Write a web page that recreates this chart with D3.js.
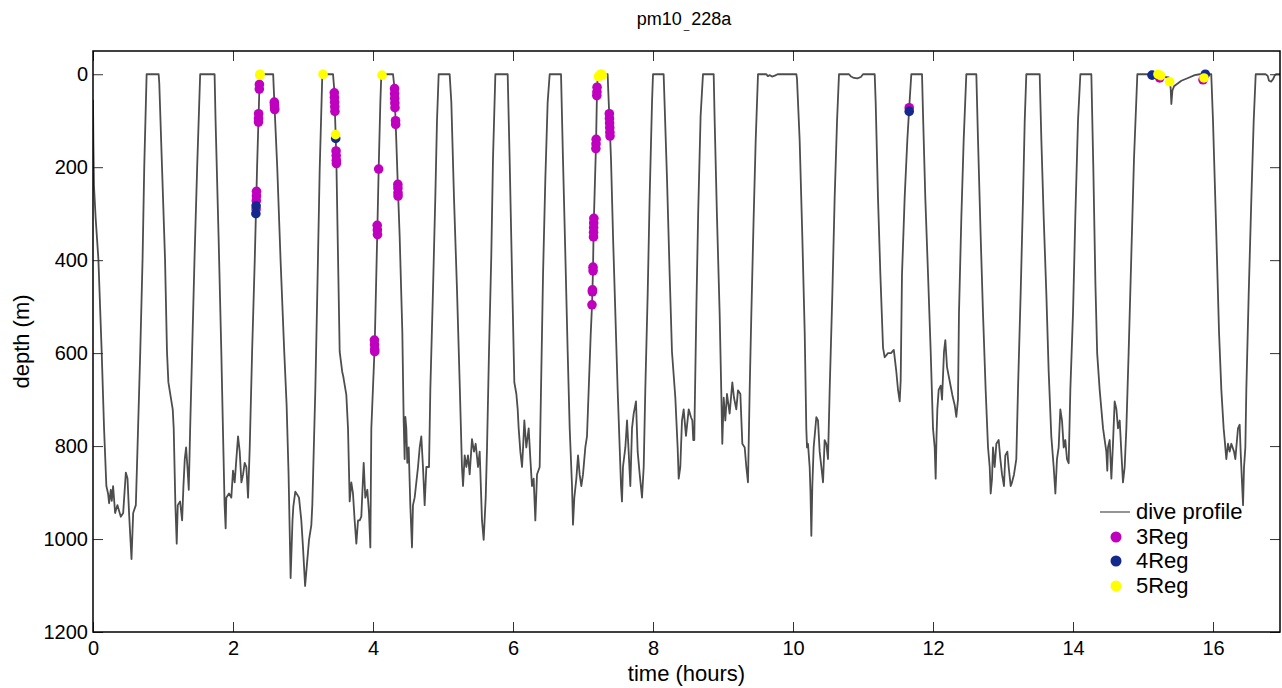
<!DOCTYPE html>
<html>
<head>
<meta charset="utf-8">
<script src="https://cdn.jsdelivr.net/npm/d3@7"></script>
<style>
  html, body { margin: 0; padding: 0; background: #fff; }
  svg { display: block; font-family: "Liberation Sans", Arial, sans-serif; }
</style>
</head>
<body>
<script>
// ---------------- data ----------------
const chartTitle = "pm10_228a";
const xLabel = "time (hours)";
const yLabel = "depth (m)";
const xTicks = [0, 2, 4, 6, 8, 10, 12, 14, 16];
const yTicks = [0, 200, 400, 600, 800, 1000, 1200];
const seriesNames = ["dive profile", "3Reg", "4Reg", "5Reg"];

// dive profile (time in hours, depth in m)
const profileTime = [
  0, 0.006, 0.014, 0.038, 0.077, 0.124, 0.158, 0.191, 0.215, 0.230, 0.254, 0.268, 0.287, 0.316, 0.349, 0.397, 0.431, 0.469, 0.493, 0.517, 0.550, 0.574, 0.612, 0.636, 0.675, 0.708, 0.732, 0.766, 0.938,
  0.947, 0.986, 1.029, 1.057, 1.077, 1.139, 1.153, 1.177, 1.196, 1.211, 1.244, 1.273, 1.292, 1.311, 1.330, 1.349, 1.368, 1.388, 1.416, 1.450, 1.488, 1.531, 1.737,
  1.751, 1.794, 1.833, 1.856, 1.880, 1.895, 1.904, 1.943, 1.976, 2.000, 2.024, 2.048, 2.072, 2.096, 2.120, 2.144, 2.167, 2.191, 2.215, 2.239, 2.273, 2.311, 2.344, 2.383, 2.574,
  2.582, 2.595, 2.632, 2.679, 2.732, 2.766, 2.794, 2.823, 2.850, 2.862, 2.890, 2.920, 2.943, 2.976, 3.000, 3.030, 3.057, 3.086, 3.119, 3.133, 3.143, 3.176, 3.205, 3.238, 3.276, 3.429,
  3.445, 3.452, 3.467, 3.476, 3.500, 3.524, 3.560, 3.575, 3.619, 3.643, 3.667, 3.690, 3.714, 3.738, 3.762, 3.786, 3.810, 3.833, 3.867, 3.890, 3.919, 3.943, 3.962, 3.976, 4.024, 4.062, 4.081, 4.105, 4.119, 4.286,
  4.300, 4.310, 4.324, 4.357, 4.381, 4.419, 4.438, 4.452, 4.462, 4.476, 4.490, 4.510, 4.533, 4.557, 4.571, 4.595, 4.643, 4.667, 4.690, 4.714, 4.738, 4.762, 4.800, 4.819, 4.857, 4.890, 4.914, 4.938, 5.095,
  5.119, 5.157, 5.200, 5.238, 5.271, 5.286, 5.310, 5.333, 5.357, 5.381, 5.414, 5.443, 5.467, 5.500, 5.524, 5.557, 5.581, 5.610, 5.629, 5.657, 5.690, 5.714, 5.748, 5.924,
  5.952, 5.986, 6.019, 6.048, 6.067, 6.081, 6.105, 6.129, 6.145, 6.162, 6.190, 6.224, 6.248, 6.271, 6.295, 6.319, 6.343, 6.381, 6.400, 6.429, 6.462, 6.495, 6.524, 6.686,
  6.714, 6.748, 6.781, 6.810, 6.843, 6.857, 6.876, 6.905, 6.929, 6.952, 6.976, 7.000, 7.033, 7.057, 7.081, 7.110, 7.129, 7.143, 7.152, 7.186, 7.200, 7.210, 7.352,
  7.362, 7.381, 7.400, 7.429, 7.462, 7.495, 7.524, 7.543, 7.557, 7.571, 7.605, 7.629, 7.652, 7.676, 7.700, 7.724, 7.757, 7.781, 7.810, 7.843, 7.867, 7.890, 7.924, 7.952, 7.986, 8.000, 8.152,
  8.200, 8.238, 8.271, 8.319, 8.352, 8.367, 8.390, 8.400, 8.414, 8.438, 8.471, 8.510, 8.543, 8.562, 8.575, 8.590, 8.595, 8.620, 8.645, 8.680, 8.714, 8.867,
  8.881, 8.914, 8.952, 8.976, 8.990, 9.010, 9.033, 9.057, 9.095, 9.133, 9.157, 9.190, 9.214, 9.248, 9.276, 9.310, 9.333, 9.357, 9.381, 9.405, 9.438, 9.467, 9.500,
  9.620, 9.640, 9.670, 9.700, 9.740, 9.780, 10.048,
  10.057, 10.095, 10.133, 10.167, 10.190, 10.200, 10.214, 10.238, 10.250, 10.262, 10.276, 10.295, 10.333, 10.357, 10.381, 10.405, 10.429, 10.452, 10.476, 10.500, 10.524, 10.562, 10.595, 10.629, 10.657,
  10.800, 10.830, 10.870, 10.920, 10.970, 11.000, 11.167,
  11.181, 11.214, 11.248, 11.286, 11.310, 11.357, 11.400, 11.440, 11.476, 11.500, 11.524, 11.538, 11.557, 11.595, 11.633, 11.667, 11.690, 11.843,
  11.857, 11.890, 11.929, 11.967, 12.000, 12.024, 12.038, 12.050, 12.062, 12.081, 12.110, 12.129, 12.157, 12.176, 12.200, 12.238, 12.276, 12.310, 12.333, 12.357, 12.371, 12.405, 12.438, 12.476, 12.619,
  12.643, 12.681, 12.714, 12.752, 12.786, 12.810, 12.824, 12.843, 12.857, 12.881, 12.905, 12.938, 12.962, 12.986, 13.014, 13.033, 13.062, 13.081, 13.110, 13.129, 13.157, 13.190, 13.214, 13.252, 13.286, 13.310, 13.333, 13.524,
  13.548, 13.581, 13.619, 13.652, 13.690, 13.724, 13.748, 13.771, 13.795, 13.819, 13.843, 13.867, 13.890, 13.914, 13.938, 13.962, 14.000, 14.033, 14.071, 14.105, 14.262,
  14.290, 14.320, 14.345, 14.381, 14.429, 14.476, 14.490, 14.500, 14.524, 14.548, 14.571, 14.595, 14.619, 14.643, 14.667, 14.690, 14.714, 14.738, 14.762, 14.795, 14.833, 14.871, 14.919,
  15.230, 15.262, 15.370, 15.395, 15.405, 15.420, 15.443, 15.476, 15.548, 15.643, 15.738, 15.810, 15.975,
  16.000, 16.048, 16.086, 16.119, 16.152, 16.167, 16.190, 16.214, 16.238, 16.262, 16.300, 16.319, 16.333, 16.357, 16.381, 16.395, 16.414, 16.429, 16.443, 16.462, 16.476, 16.510, 16.548, 16.581, 16.610,
  16.750, 16.780, 16.800, 16.830, 16.860, 16.880, 16.900, 16.957
];
const profileDepth = [
  55, 150, 240, 310, 398, 597, 762, 886, 902, 923, 894, 918, 886, 944, 927, 952, 944, 857, 870, 950, 1043, 944, 927, 803, 597, 398, 200, 0, 0,
  20, 200, 398, 597, 663, 721, 762, 927, 1010, 927, 919, 960, 886, 828, 803, 845, 894, 762, 597, 398, 200, 0, 0,
  100, 349, 597, 762, 927, 977, 911, 902, 911, 853, 878, 828, 779, 812, 878, 861, 836, 845, 911, 803, 597, 398, 200, 0, 0,
  30, 75, 200, 398, 597, 712, 861, 1084, 960, 930, 898, 905, 911, 960, 1018, 1101, 1053, 1002, 970, 927, 870, 679, 464, 208, 0, 0,
  30, 60, 134, 180, 390, 597, 640, 650, 690, 762, 919, 878, 902, 960, 1010, 960, 960, 952, 836, 911, 894, 944, 1018, 762, 584, 335, 204, 60, 0, 0,
  20, 52, 105, 250, 349, 555, 745, 828, 737, 762, 836, 803, 927, 1018, 927, 911, 845, 803, 779, 845, 927, 845, 845, 679, 464, 266, 101, 0, 0,
  60, 266, 464, 663, 845, 886, 820, 845, 820, 861, 785, 812, 795, 845, 812, 960, 1002, 911, 803, 597, 390, 183, 0, 0,
  183, 431, 663, 688, 721, 762, 812, 845, 800, 745, 803, 762, 828, 886, 870, 960, 861, 845, 679, 431, 225, 60, 0, 0,
  183, 390, 597, 762, 886, 969, 911, 870, 820, 861, 886, 861, 803, 779, 680, 560, 496, 419, 330, 150, 36, 0, 0,
  40, 110, 183, 349, 514, 679, 803, 886, 919, 845, 803, 745, 812, 886, 762, 730, 704, 812, 861, 911, 845, 679, 472, 266, 60, 0, 0,
  225, 431, 597, 696, 803, 870, 845, 803, 745, 721, 778, 721, 738, 745, 787, 787, 730, 500, 300, 90, 0, 0,
  101, 307, 514, 688, 795, 696, 745, 688, 730, 663, 696, 721, 680, 688, 795, 803, 845, 878, 679, 514, 307, 142, 0,
  0, 4, 2, 5, 3, 0, 0,
  10, 142, 349, 555, 762, 803, 795, 845, 900, 993, 886, 803, 738, 745, 812, 845, 878, 787, 795, 828, 679, 472, 266, 101, 0,
  0, 5, 8, 9, 6, 0, 0,
  60, 266, 431, 588, 609, 600, 600, 593, 640, 679, 704, 660, 431, 266, 142, 55, 0, 0,
  84, 266, 431, 597, 762, 803, 870, 780, 721, 679, 670, 700, 597, 572, 630, 660, 690, 712, 737, 700, 514, 307, 142, 0, 0,
  142, 349, 514, 679, 803, 845, 902, 870, 803, 845, 795, 787, 828, 861, 886, 820, 812, 845, 886, 878, 861, 828, 679, 472, 266, 101, 0, 0,
  142, 307, 472, 638, 779, 845, 902, 828, 803, 721, 745, 803, 787, 828, 837, 679, 514, 307, 101, 0, 0,
  200, 450, 600, 679, 762, 812, 853, 803, 787, 870, 795, 704, 720, 762, 745, 812, 878, 845, 762, 597, 390, 183, 0,
  0, 5, 7, 30, 64, 35, 26, 22, 14, 8, 2, 0, 0,
  101, 349, 555, 679, 762, 787, 828, 795, 812, 795, 812, 828, 803, 762, 754, 812, 878, 927, 845, 803, 679, 472, 266, 101, 0,
  0, 3, 14, 16, 10, 3, 0, 0
];

// click detections by number of regressions
const reg3Time = [2.377, 2.376, 2.366, 2.365, 2.364, 2.336, 2.335, 2.333, 2.330,
  2.590, 2.592, 2.594, 2.596,
  3.447, 3.449, 3.452, 3.454, 3.456, 3.472, 3.474, 3.476, 3.477,
  4.020, 4.022, 4.024, 4.025, 4.060, 4.062, 4.064, 4.081,
  4.308, 4.309, 4.310, 4.312, 4.314, 4.322, 4.324, 4.355, 4.356, 4.357, 4.358,
  7.128, 7.135, 7.134, 7.143, 7.144, 7.150, 7.151, 7.152, 7.153, 7.155, 7.184, 7.186, 7.188, 7.197, 7.199, 7.201,
  7.376, 7.378, 7.380, 7.382, 7.384, 7.386,
  11.660, 15.238, 15.857];
const reg3Depth = [22, 32, 85, 95, 103, 252, 262, 272, 290,
  60, 66, 72, 76,
  40, 50, 60, 70, 80, 165, 175, 185, 192,
  572, 582, 592, 597, 325, 335, 345, 204,
  31, 42, 52, 62, 72, 100, 108, 237, 245, 255, 262,
  496, 464, 468, 415, 423, 350, 340, 330, 320, 310, 160, 150, 140, 46, 38, 28,
  85, 95, 105, 115, 125, 133,
  72, 8, 12];
const reg4Time = [2.330, 2.327, 3.467, 11.660, 15.129, 15.890];
const reg4Depth = [283, 300, 138, 80, 2, 0];
const reg5Time = [2.383, 2.386, 3.286, 3.466, 4.129, 7.220, 7.235, 7.250, 7.265, 7.275, 15.214, 15.252, 15.381, 15.871];
const reg5Depth = [2, 0, 0, 130, 2, 5, 3, 0, 0, 2, 0, 3, 16, 8];

// ---------------- drawing ----------------
const W = 1282, H = 688;
const plot = { left: 93, top: 51, right: 1280, bottom: 632 };

const x = d3.scaleLinear().domain([0, 16.957]).range([plot.left, plot.right]);
const y = d3.scaleLinear().domain([-50, 1200]).range([plot.top, plot.bottom]);

const svg = d3.select("body").append("svg").attr("width", W).attr("height", H);
svg.append("rect").attr("width", W).attr("height", H).attr("fill", "#fff");

svg.append("clipPath").attr("id", "clip").append("rect")
  .attr("x", plot.left).attr("y", plot.top)
  .attr("width", plot.right - plot.left).attr("height", plot.bottom - plot.top);

const gData = svg.append("g").attr("clip-path", "url(#clip)");

const profile = profileTime.map((t, i) => ({ t, d: profileDepth[i] }));
const line = d3.line().x(p => x(p.t)).y(p => y(p.d));
gData.append("path").datum(profile)
  .attr("d", line).attr("fill", "none")
  .attr("stroke", "#4d4d4d").attr("stroke-width", 1.8).attr("stroke-linejoin", "round");

const colors = { "3Reg": "#bf00bf", "4Reg": "#13298c", "5Reg": "#ffff00" };
const dotSets = [
  ["3Reg", reg3Time, reg3Depth],
  ["4Reg", reg4Time, reg4Depth],
  ["5Reg", reg5Time, reg5Depth]
];
dotSets.forEach(([name, ts, ds]) => {
  gData.append("g").selectAll("circle")
    .data(ts.map((t, i) => ({ t, d: ds[i] })))
    .join("circle")
    .attr("cx", p => x(p.t)).attr("cy", p => y(p.d)).attr("r", 4.8)
    .attr("fill", colors[name]);
});

// axes (MATLAB style box with inward ticks on all sides)
const tickLen = 10;
const axBottom = d3.axisBottom(x).tickValues(xTicks).tickSize(-tickLen).tickPadding(9).tickFormat(d3.format("d"));
const axTop = d3.axisTop(x).tickValues(xTicks).tickSize(-tickLen).tickFormat("");
const axLeft = d3.axisLeft(y).tickValues(yTicks).tickSize(-tickLen).tickPadding(5).tickFormat(d3.format("d"));
const axRight = d3.axisRight(y).tickValues(yTicks).tickSize(-tickLen).tickFormat("");

function styleAxis(g) {
  g.select(".domain").remove();
  g.selectAll(".tick line").attr("stroke", "#333").attr("stroke-width", 1);
  g.selectAll(".tick text").attr("fill", "#000").style("font-size", "20px")
    .style("font-family", "'Liberation Sans', Arial, sans-serif");
}
svg.append("g").attr("transform", `translate(0,${plot.bottom})`).call(axBottom).call(styleAxis);
svg.append("g").attr("transform", `translate(0,${plot.top})`).call(axTop).call(styleAxis);
svg.append("g").attr("transform", `translate(${plot.left},0)`).call(axLeft).call(styleAxis);
svg.append("g").attr("transform", `translate(${plot.right},0)`).call(axRight).call(styleAxis);

svg.append("rect")
  .attr("x", plot.left).attr("y", plot.top)
  .attr("width", plot.right - plot.left).attr("height", plot.bottom - plot.top)
  .attr("fill", "none").attr("stroke", "#000").attr("stroke-width", 1.5);

// titles
const title = svg.append("text")
  .attr("x", 684).attr("y", 25)
  .attr("text-anchor", "middle").style("font-size", "18px").attr("fill", "#000");
title.append("tspan").text(chartTitle.split("_")[0]);
title.append("tspan").attr("dx", 2).attr("dy", 4).style("font-size", "10px").text("_");
title.append("tspan").attr("dx", 2).attr("dy", -4).text(chartTitle.split("_")[1]);

svg.append("text")
  .attr("x", (plot.left + plot.right) / 2).attr("y", 681)
  .attr("text-anchor", "middle").style("font-size", "22px").attr("fill", "#000")
  .text(xLabel);

svg.append("text")
  .attr("transform", `translate(29,${(plot.top + plot.bottom) / 2}) rotate(-90)`)
  .attr("text-anchor", "middle").style("font-size", "22px").attr("fill", "#000")
  .text(yLabel);

// legend
const lg = svg.append("g");
const legendY = [512, 537, 561, 586];
lg.append("line").attr("x1", 1100).attr("x2", 1130).attr("y1", legendY[0]).attr("y2", legendY[0])
  .attr("stroke", "#4d4d4d").attr("stroke-width", 1.2);
seriesNames.forEach((name, i) => {
  if (i > 0) {
    lg.append("circle").attr("cx", 1116).attr("cy", legendY[i]).attr("r", 5.5).attr("fill", colors[name]);
  }
  lg.append("text").attr("x", 1136).attr("y", legendY[i] + 7)
    .style("font-size", "22px").attr("fill", "#000").text(name);
});
</script>
</body>
</html>
